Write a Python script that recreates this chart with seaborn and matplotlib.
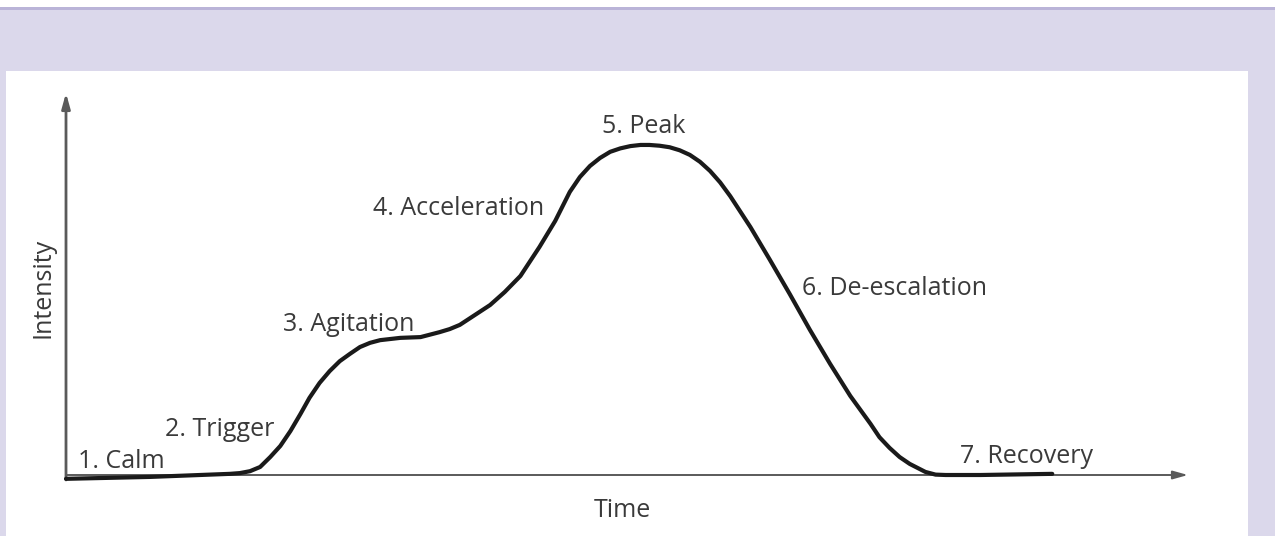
import matplotlib
matplotlib.use('Agg')
import matplotlib.pyplot as plt
import matplotlib.patches as mpatches
import pandas as pd
import seaborn as sns

# кривая эскалации (время 0..100, интенсивность 0..100)
time = [0.0, 7.5, 14.6, 15.5, 16.4, 17.3, 18.2, 19.1, 20.0, 20.9, 21.7, 22.6,
        23.5, 24.4, 25.3, 26.2, 27.1, 28.0, 29.8, 31.6, 33.3, 34.2, 35.1, 37.8,
        39.1, 40.5, 42.2, 43.6, 44.9, 45.8, 46.7, 47.6, 48.5, 49.4, 50.3, 51.2,
        52.0, 52.9, 53.8, 54.7, 55.6, 56.5, 57.4, 58.3, 59.2, 61.0, 62.7, 64.5,
        66.3, 68.1, 69.9, 71.7, 72.5, 73.4, 74.3, 75.2, 76.6, 77.5, 78.4, 81.5,
        87.9]
intensity = [-1.0, -0.5, 0.3, 0.5, 1.0, 2.1, 4.7, 7.6, 11.5, 16.0, 20.2, 24.1,
             27.2, 29.8, 31.7, 33.5, 34.6, 35.3, 35.9, 36.1, 37.4, 38.2, 39.3, 44.5,
             47.9, 52.1, 59.7, 66.5, 74.1, 78.0, 80.9, 83.0, 84.6, 85.5, 86.1, 86.4,
             86.4, 86.2, 85.8, 85.0, 83.8, 82.0, 79.6, 76.6, 73.0, 64.9, 56.5, 47.4,
             38.0, 29.1, 20.7, 13.4, 9.9, 7.1, 4.7, 2.9, 0.8, 0.1, 0.0, 0.0,
             0.3]

stages = ['1. Calm', '2. Trigger', '3. Agitation', '4. Acceleration',
          '5. Peak', '6. De-escalation', '7. Recovery']
# где стоят подписи (левый край, базовая линия)
stage_pos = [(1.1, 1.8), (8.8, 10.2), (19.3, 37.7), (27.4, 68.1),
             (47.8, 89.5), (65.6, 47.1), (79.7, 3.1)]

df = pd.DataFrame({'time': time, 'intensity': intensity})

sns.set_style('white')
plt.rcParams['font.family'] = ['Open Sans', 'DejaVu Sans']

W, H = 1275, 536
fig = plt.figure(figsize=(W / 100, H / 100), dpi=100, facecolor='#dbd8eb')

# белая полоса сверху, рамка и белая панель
fig.patches.append(mpatches.Rectangle((0, 1 - 7 / H), 1, 7 / H, transform=fig.transFigure,
                                      facecolor='white', edgecolor='none', zorder=0))
fig.patches.append(mpatches.Rectangle((0, 1 - 10 / H), 1, 3 / H, transform=fig.transFigure,
                                      facecolor='#bab4d8', edgecolor='none', zorder=0))
fig.patches.append(mpatches.Rectangle((6 / W, 0), 1242 / W, (H - 71) / H, transform=fig.transFigure,
                                      facecolor='white', edgecolor='none', zorder=0))

ax = fig.add_axes([66 / W, (H - 475) / H, 1122 / W, 382 / H])
ax.set_zorder(2)
ax.set_facecolor('none')
ax.set_xlim(0, 100)
ax.set_ylim(0, 100)
ax.axis('off')

axis_color = '#5a5a5a'
ax.annotate('', xy=(0, 100), xytext=(0, -1.3),
            arrowprops=dict(arrowstyle='-|>,head_length=0.9,head_width=0.25', color=axis_color,
                            lw=2.0, shrinkA=0, shrinkB=0), annotation_clip=False)
ax.annotate('', xy=(100, 0), xytext=(0, 0),
            arrowprops=dict(arrowstyle='-|>,head_length=0.9,head_width=0.25', color=axis_color,
                            lw=1.4, shrinkA=0, shrinkB=0), annotation_clip=False)

sns.lineplot(data=df, x='time', y='intensity', ax=ax, color='#1a1a1a', linewidth=3.0,
             solid_capstyle='round', solid_joinstyle='round', clip_on=False, zorder=3)

text_color = '#3a3a3a'
fs = 18
for name, (x, y) in zip(stages, stage_pos):
    ax.text(x, y, name, ha='left', va='baseline', fontsize=fs, color=text_color)

ax.text(49.6, -11.0, 'Time', ha='center', va='baseline', fontsize=fs, color=text_color)
ax.text(-2.05, 49.0, 'Intensity', ha='center', va='center', rotation=90,
        fontsize=fs, color=text_color)

fig.savefig('out.png', dpi=100, facecolor=fig.get_facecolor())
